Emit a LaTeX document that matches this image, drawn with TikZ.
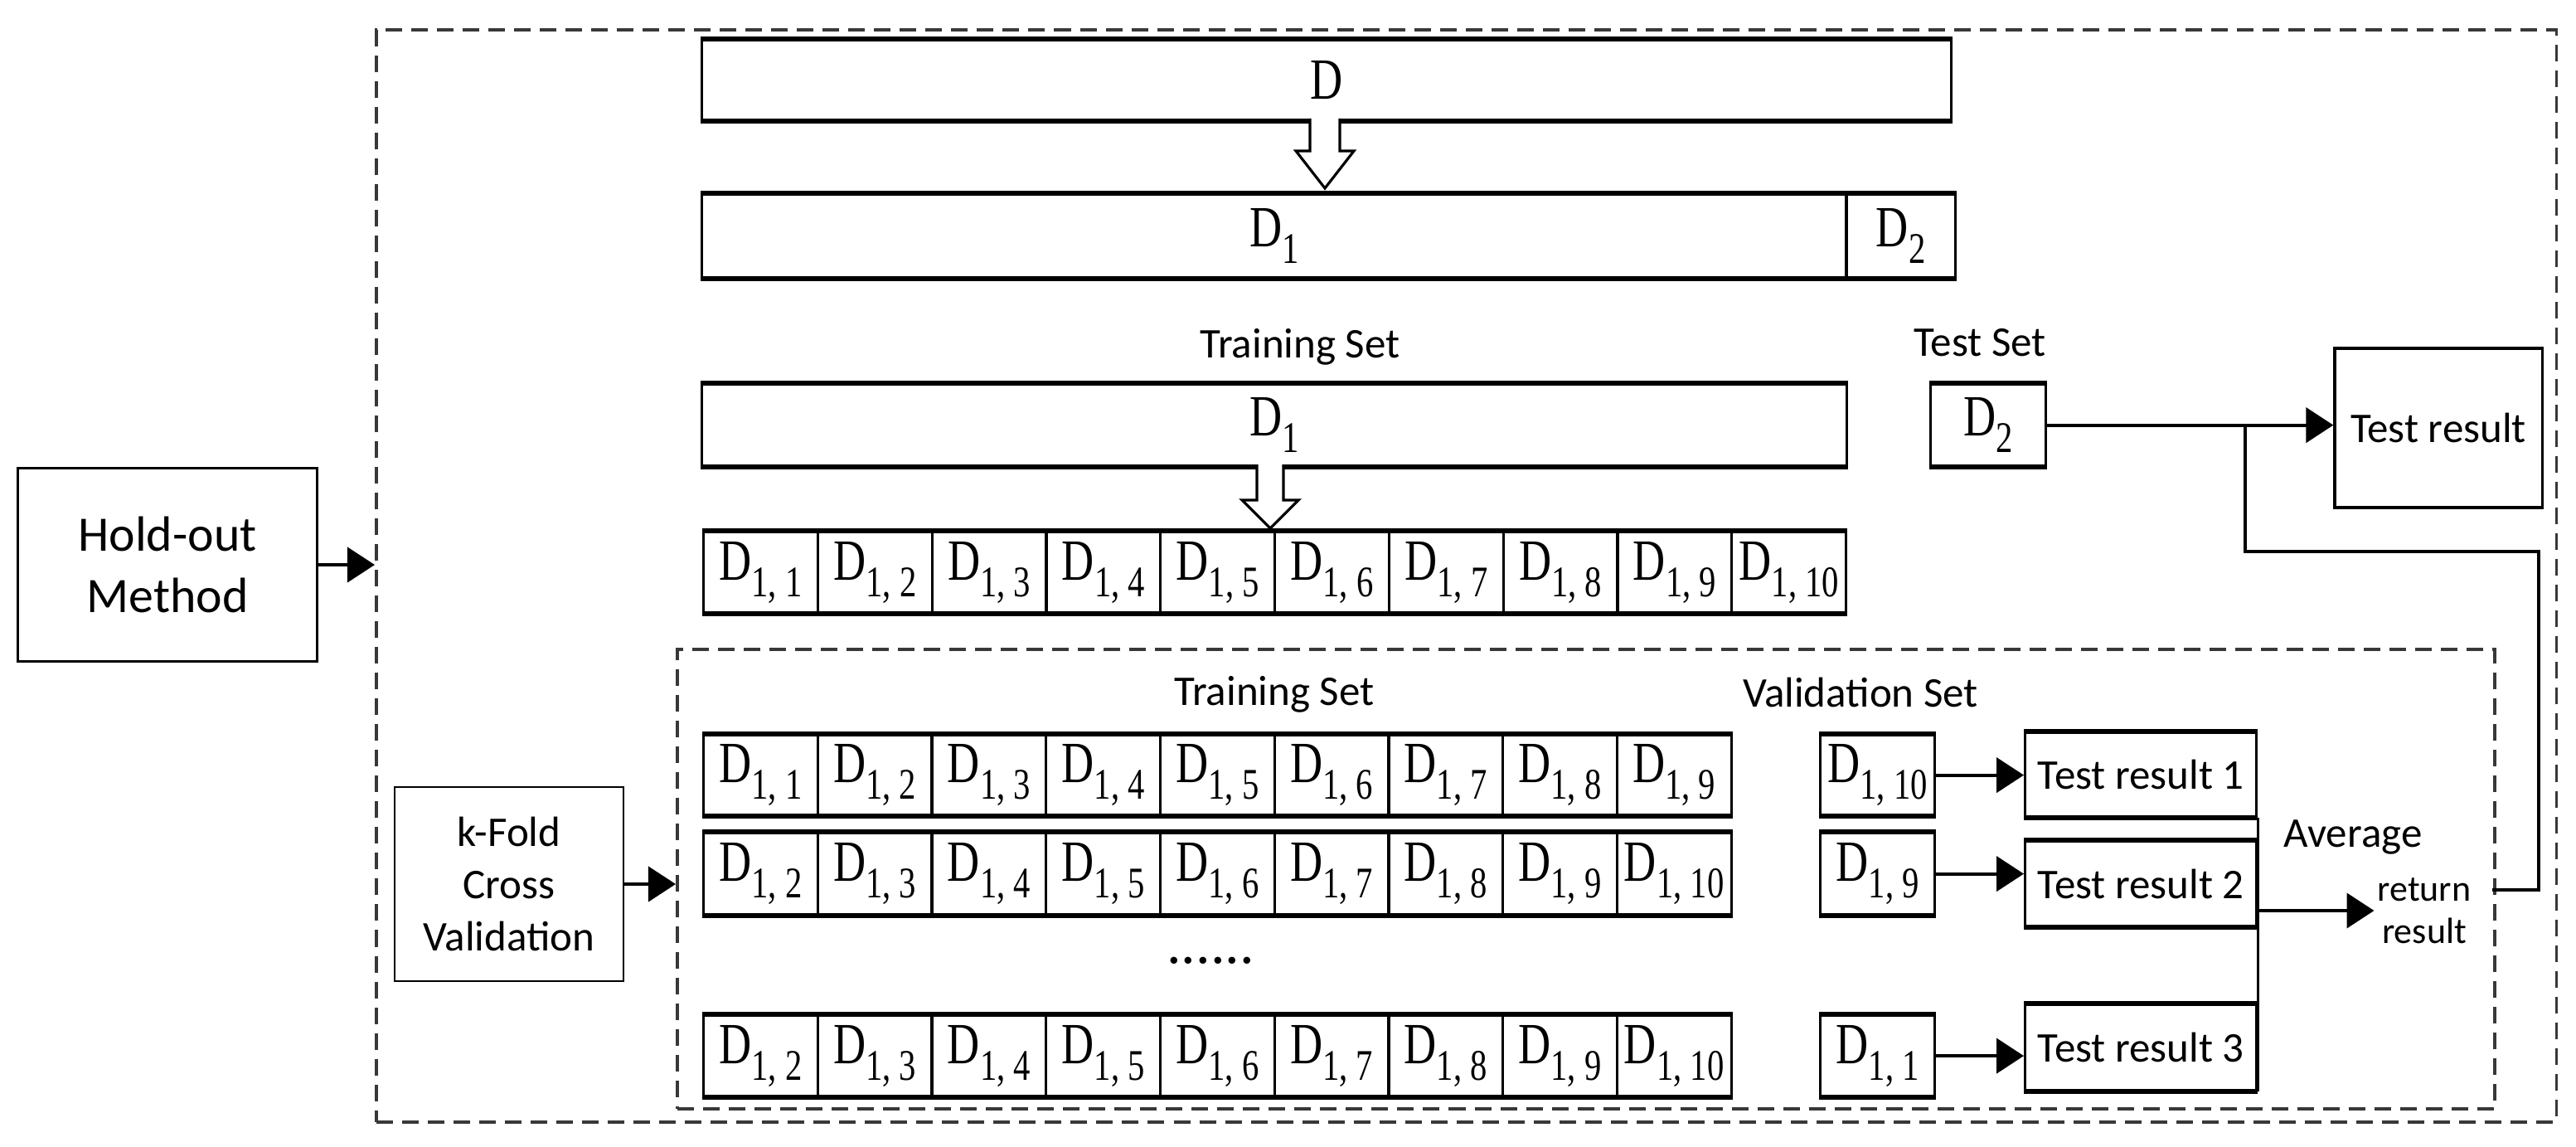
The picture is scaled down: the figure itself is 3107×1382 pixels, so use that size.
\documentclass[tikz,border=0pt]{standalone}
\usepackage{graphicx}
\usepackage{fontspec}
\setmainfont{Liberation Serif}
\newfontfamily\labfont{Carlito}
\usetikzlibrary{arrows.meta}

\newcommand{\DD}[1]{\scalebox{0.77}[1]{\fontsize{20}{20}\selectfont D\raisebox{-0.2cm}{\fontsize{15}{15}\selectfont #1}}}
\newcommand{\Dbig}{\scalebox{0.77}[1]{\fontsize{20}{20}\selectfont D}}
\newcommand{\tbord}[2]{\draw[line width=1.7pt] (#1.north west) -- (#2.north east); \draw[line width=1.7pt] (#1.south west) -- (#2.south east);}

\tikzset{
  lbl/.style={font=\labfont\fontsize{14.5}{17}\selectfont},
  bigbox/.style={draw, line width=0.9pt, inner sep=0pt, anchor=north west},
  cell/.style={draw, line width=0.9pt, inner sep=0pt, anchor=north west, minimum width=1.378cm},
  dbox/.style={draw=black!78, line width=1.1pt, dash pattern=on 0.2cm off 0.11cm, inner sep=0pt, anchor=north west},
  arr/.style={-{Triangle[length=0.33cm,width=0.42cm]}, line width=1.2pt},
  hollow/.style={draw, line width=0.9pt, fill=white, line join=miter},
  plain/.style={line width=1.1pt}
}

\begin{document}
\begin{tikzpicture}[x=0.01cm, y=-0.01cm]
\useasboundingbox (0,0) rectangle (3107,1382);
\fill[white] (0,0) rectangle (3107,1382);

% containers
\node[dbox, minimum width=26.28cm, minimum height=13.16cm] (outer) at (452,34) {};
\node[dbox, minimum width=21.91cm, minimum height=5.54cm] (inner) at (815,781) {};

% hold-out method
\node[draw, line width=0.8pt, align=center, minimum width=3.6cm, minimum height=2.33cm,
      font=\labfont\fontsize{17}{21}\selectfont] (hold) at (202,681) {Hold-out\\Method};
\draw[arr] (hold.east) -- (hold.east -| outer.west);

% D bar
\node[bigbox, minimum width=15.06cm, minimum height=0.96cm] (D) at (845,47) {\Dbig};
\tbord{D}{D}
\draw[hollow] (1580,143) -- (1580,182) -- (1563,182) -- (1598,227) -- (1633,182) -- (1616,182) -- (1616,143);

% D1 | D2 bar
\node[bigbox, minimum width=13.8cm, minimum height=1.0cm] (Da) at (845,233) {\DD{1}};
\node[bigbox, minimum width=1.32cm, minimum height=1.0cm] (Db) at (2225,233) {\DD{2}};
\tbord{Da}{Db}

% labels
\node[lbl] (trs) at (1568,418) {Training Set};
\node[lbl] (tss) at (2388,413) {Test Set};

% D1 training, D2 test
\node[bigbox, minimum width=13.8cm, minimum height=0.98cm] (Dt) at (845,462) {\DD{1}};
\tbord{Dt}{Dt}
\node[bigbox, minimum width=1.39cm, minimum height=0.98cm] (Ds) at (2327,462) {\DD{2}};
\tbord{Ds}{Ds}
\draw[hollow] (1516,560) -- (1516,603) -- (1498,603) -- (1532,637) -- (1566,603) -- (1548,603) -- (1548,560);

% test result
\node[draw, line width=0.9pt, lbl, minimum width=2.5cm, minimum height=1.92cm] (tr) at (2941,516) {Test result};
\coordinate (junc) at (2708,511);
\draw[arr] (Ds.east) -- (Ds.east -| tr.west);

% row of 10 folds
\foreach \i in {1,...,10} {
  \node[cell, minimum height=0.97cm] (a\i) at ({847+(\i-1)*137.8},640) {\DD{1, \i}};
}
\tbord{a1}{a10}

% inner labels
\node[lbl] (trs2) at (1537,837) {Training Set};
\node[lbl] (vs) at (2244,835) {Validation Set};

% k-fold box
\node[draw, line width=0.8pt, align=center, minimum width=2.76cm, minimum height=2.34cm,
      font=\labfont\fontsize{14.5}{18}\selectfont] (kf) at (614,1066) {k-Fold\\Cross\\Validation};
\draw[arr] (kf.east) -- (kf.east -| inner.west);

% k-fold rows
\foreach \i in {1,...,9} {
  \pgfmathtruncatemacro{\j}{\i+1}
  \node[cell, minimum height=0.96cm] (b\i) at ({847+(\i-1)*137.7},885) {\DD{1, \i}};
  \node[cell, minimum height=0.98cm] (c\i) at ({847+(\i-1)*137.7},1003) {\DD{1, \j}};
  \node[cell, minimum height=0.97cm] (d\i) at ({847+(\i-1)*137.7},1223) {\DD{1, \j}};
}
\tbord{b1}{b9}
\tbord{c1}{c9}
\tbord{d1}{d9}
\node (dots) at (1460,1158) {\fontsize{20}{20}\selectfont ......};

% validation folds
\node[cell, minimum width=1.38cm, minimum height=0.96cm] (v1) at (2194,885) {\DD{1, 10}};
\node[cell, minimum width=1.38cm, minimum height=0.98cm] (v2) at (2194,1003) {\DD{1, 9}};
\node[cell, minimum width=1.38cm, minimum height=0.97cm] (v3) at (2194,1223) {\DD{1, 1}};
\tbord{v1}{v1}
\tbord{v2}{v2}
\tbord{v3}{v3}

% test results
\node[draw, line width=0.9pt, lbl, anchor=north west, minimum width=2.79cm, minimum height=1.01cm] (t1) at (2441,882) {Test result 1};
\node[draw, line width=0.9pt, lbl, anchor=north west, minimum width=2.79cm, minimum height=1.02cm] (t2) at (2441,1013) {Test result 2};
\node[draw, line width=0.9pt, lbl, anchor=north west, minimum width=2.79cm, minimum height=1.03cm] (t3) at (2441,1210) {Test result 3};
\tbord{t1}{t1}
\tbord{t2}{t2}
\tbord{t3}{t3}
\draw[arr] (v1.east) -- (v1.east -| t1.west);
\draw[arr] (v2.east) -- (v2.east -| t2.west);
\draw[arr] (v3.east) -- (v3.east -| t3.west);
\draw[line width=0.9pt] (t1.south east) -- (t3.south east);

% average / return result
\node[lbl] (avg) at (2838,1010) {Average};
\node[align=center, font=\labfont\fontsize{12.5}{14.5}\selectfont, inner sep=1pt] (ret) at (2924,1098) {return\\result};
\draw[arr] (ret.west -| t2.east) -- (ret.west);
\coordinate (retout) at (3006,1073);
\draw[plain] (retout) -- (3062,1073) -- (3062,665) -- (2708,665) -- (junc);
\end{tikzpicture}
\end{document}
